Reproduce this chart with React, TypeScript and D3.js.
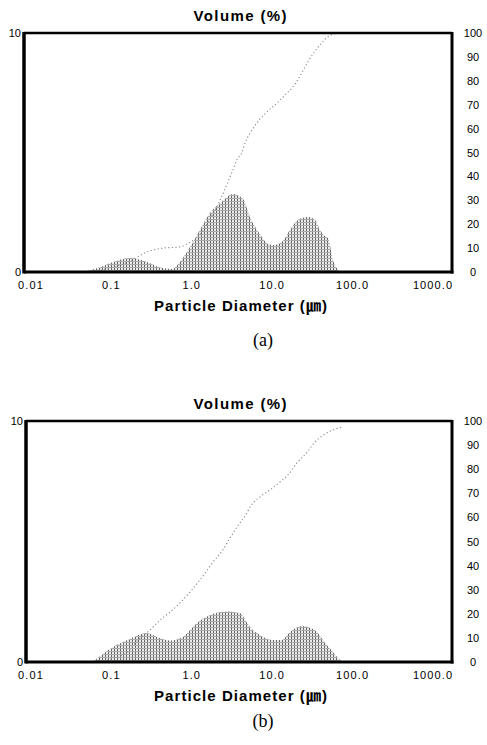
import * as d3 from "d3";

// particle diameter (µm) / frequency (%) for sample (a)
const histDiamA = [0.044, 0.05, 0.072, 0.105, 0.17, 0.277, 0.4, 0.57, 0.71, 0.95, 1.26, 1.68, 2.12, 2.74, 3.25, 4.33, 5.3, 6.47, 7.46, 8.6, 10.2, 13.2, 16.6, 20.9, 27.9, 34.0, 39.3, 45.4, 49.4, 57, 64, 71.8];
const histValA = [0, 0.05, 0.2, 0.42, 0.59, 0.42, 0.2, 0.13, 0.42, 1.05, 1.76, 2.47, 2.8, 3.14, 3.26, 3.05, 2.3, 1.76, 1.46, 1.2, 1.13, 1.26, 1.76, 2.18, 2.3, 2.18, 1.76, 1.5, 1.42, 0.5, 0.15, 0];
// cumulative volume (%) for sample (a)
const cumDiamA = [0.054, 0.105, 0.17, 0.277, 0.44, 0.71, 0.95, 1.19, 1.68, 2.24, 2.82, 3.25, 3.65, 4.2, 4.59, 5.3, 6.86, 8.6, 11.5, 15.7, 17.6, 22.2, 28.7, 39.3, 52.4, 69.7];
const cumValA = [0, 2, 4.5, 8.4, 10, 10.5, 12.5, 14.6, 22, 30, 37.7, 42.7, 47, 50, 54, 58, 63.6, 67, 70.7, 75.3, 77, 82, 88.7, 95, 99, 100];

// sample (b)
const histDiamB = [0.059, 0.105, 0.156, 0.18, 0.277, 0.369, 0.536, 0.755, 1.16, 1.84, 2.74, 3.98, 4.46, 5.3, 7.05, 9.95, 13.2, 16.6, 23.5, 27.9, 36.1, 42.8, 57, 69.7, 76];
const histValB = [0, 0.62, 0.9, 1.0, 1.2, 1.04, 0.89, 1.02, 1.62, 2.0, 2.1, 2.03, 1.83, 1.45, 1.12, 0.91, 0.91, 1.24, 1.49, 1.45, 1.24, 0.91, 0.41, 0.08, 0];
const cumDiamB = [0.072, 0.105, 0.156, 0.214, 0.302, 0.402, 0.536, 0.712, 0.95, 1.26, 1.55, 1.84, 2.38, 2.99, 3.65, 4.86, 5.3, 7.05, 9.4, 12.5, 15.7, 20.3, 27.1, 34.0, 42.8, 57, 76];
const cumValB = [0, 1.5, 4.1, 9.1, 13.3, 17.4, 20.7, 24.5, 29, 34, 38, 41.5, 46, 51.5, 56, 62, 64.3, 68.5, 71.4, 74.7, 77.6, 82.6, 87, 91.3, 94, 96.3, 97.5];

const xTicks = [0.01, 0.1, 1, 10, 100, 1000];
const xTickLabels = ["0.01", "0.1", "1.0", "10.0", "100.0", "1000.0"];
const leftTicks = [0, 10];
const rightTicks = [0, 10, 20, 30, 40, 50, 60, 70, 80, 90, 100];

const panels = [
  { key: "a", caption: "(a)", top: 33, bottom: 272, left: 24, captionY: 346, hd: histDiamA, hv: histValA, cd: cumDiamA, cv: cumValA },
  { key: "b", caption: "(b)", top: 421, bottom: 662, left: 26, captionY: 727, hd: histDiamB, hv: histValB, cd: cumDiamB, cv: cumValB },
];

const W = 487;
const H = 745;
const right = 452;
const sans = "'Liberation Sans', Arial, Helvetica, sans-serif";

function Panel({ p }: { p: (typeof panels)[number] }) {
  const x = d3.scaleLog().domain([0.01, 1000]).range([31, 433]);
  const yL = d3.scaleLinear().domain([0, 10]).range([p.bottom, p.top]);
  const yR = d3.scaleLinear().domain([0, 100]).range([p.bottom, p.top]);

  const hist = p.hd.map((d, i) => ({ d, v: p.hv[i] }));
  const cum = p.cd.map((d, i) => ({ d, v: p.cv[i] }));

  const area = d3
    .area<{ d: number; v: number }>()
    .x((e) => x(e.d))
    .y0(p.bottom)
    .y1((e) => yL(e.v))
    .curve(d3.curveMonotoneX);
  const line = d3
    .line<{ d: number; v: number }>()
    .x((e) => x(e.d))
    .y((e) => yR(e.v))
    .curve(d3.curveMonotoneX);

  return (
    <g>
      {/* title */}
      <text x={240} y={p.top - 12} textAnchor="middle" fontFamily={sans} fontWeight="bold" fontSize={15} textLength={93} lengthAdjust="spacing">
        Volume (%)
      </text>

      {/* histogram */}
      <path d={area(hist) ?? ""} fill={`url(#hatch)`} />
      {/* cumulative */}
      <path d={line(cum) ?? ""} fill="none" stroke="#888" strokeWidth={1.1} strokeDasharray="1.2 2.4" />

      {/* frame */}
      <line x1={p.left} x2={right} y1={p.top} y2={p.top} stroke="#000" strokeWidth={2.5} />
      <line x1={p.left} x2={right + 1.5} y1={p.bottom} y2={p.bottom} stroke="#000" strokeWidth={3} />
      <line x1={p.left} x2={p.left} y1={p.top - 1} y2={p.bottom + 1.5} stroke="#000" strokeWidth={3.5} />
      <line x1={right} x2={right} y1={p.top - 1} y2={p.bottom + 1.5} stroke="#000" strokeWidth={3} />

      {/* left axis labels */}
      {leftTicks.map((t) => (
        <text key={t} x={p.left - 3} y={yL(t) + 4} textAnchor="end" fontFamily={sans} fontSize={11}>
          {t}
        </text>
      ))}
      {/* right axis labels */}
      {rightTicks.map((t) => (
        <text key={t} x={473} y={yR(t) + 4} textAnchor="middle" fontFamily={sans} fontSize={11}>
          {t}
        </text>
      ))}
      {/* x axis labels */}
      {xTicks.map((t, i) => (
        <text key={t} x={x(t)} y={p.bottom + 17} textAnchor="middle" fontFamily={sans} fontSize={11} letterSpacing={1.1}>
          {xTickLabels[i]}
        </text>
      ))}
      <text x={240.5} y={p.bottom + 39} textAnchor="middle" fontFamily={sans} fontWeight="bold" fontSize={15} textLength={173} lengthAdjust="spacing">
        Particle Diameter (<tspan fontFamily="'Noto Sans CJK KR', sans-serif">㎛</tspan>)
      </text>

      {/* caption */}
      <text x={263} y={p.captionY} textAnchor="middle" fontFamily="'Liberation Serif', 'Times New Roman', serif" fontSize={18}>
        {p.caption}
      </text>
    </g>
  );
}

export default function App() {
  return (
    <svg width={W} height={H} viewBox={`0 0 ${W} ${H}`} style={{ position: "absolute", left: 0, top: 0, background: "#fff" }}>
      <defs>
        <pattern id="hatch" width={3} height={3} patternUnits="userSpaceOnUse">
          <rect x={0} y={0} width={3} height={3} fill="#ececec" />
          <rect x={0} y={0} width={1} height={3} fill="#666" />
          <rect x={0} y={0} width={3} height={1} fill="#aaa" />
        </pattern>
      </defs>
      {panels.map((p) => (
        <Panel key={p.key} p={p} />
      ))}
    </svg>
  );
}
